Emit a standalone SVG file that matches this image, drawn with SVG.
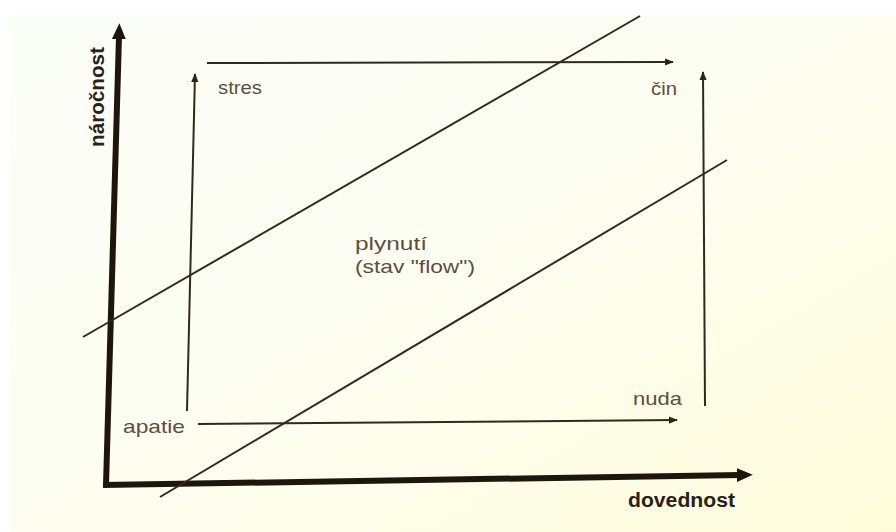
<svg xmlns="http://www.w3.org/2000/svg" width="896" height="532" viewBox="0 0 896 532">
<defs>
<linearGradient id="bg" x1="0" y1="0" x2="1" y2="1">
<stop offset="0" stop-color="#fbfdf8"/>
<stop offset="0.55" stop-color="#fdfef0"/>
<stop offset="1" stop-color="#fdfcda"/>
</linearGradient>
<marker id="ah" viewBox="0 0 10 10" refX="9" refY="5" markerWidth="9" markerHeight="9" markerUnits="userSpaceOnUse" orient="auto">
<path d="M0,1 L10,5 L0,9 Z" fill="#2e2416"/>
</marker>
<marker id="axh" viewBox="0 0 10 10" refX="2" refY="5" markerWidth="16" markerHeight="14" markerUnits="userSpaceOnUse" orient="auto" preserveAspectRatio="none">
<path d="M0,0 L10,5 L0,10 Z" fill="#1e160c"/>
</marker>
</defs>
<style>
.lbl{font-family:"Liberation Sans",Arial,sans-serif;font-size:19px;fill:#5e4e3c}
.ax{font-family:"Liberation Sans",Arial,sans-serif;font-size:20px;font-weight:bold;fill:#2a2116}
.thin{stroke:#33291b;stroke-width:2;fill:none}
.axis{stroke:#1e160c;stroke-width:6;fill:none}
</style>
<rect width="896" height="532" fill="#ffffff"/>
<rect x="10" y="15" width="886" height="517" fill="url(#bg)"/>
<g id="connectors">
<line class="axis" x1="106" y1="485" x2="119" y2="36" marker-end="url(#axh)"/>
<line class="axis" x1="103" y1="485" x2="740" y2="475" marker-end="url(#axh)"/>
<line class="thin" x1="187" y1="411" x2="195" y2="74" marker-end="url(#ah)"/>
<line class="thin" x1="207" y1="63" x2="673" y2="62" marker-end="url(#ah)"/>
<line class="thin" x1="705" y1="406" x2="703" y2="72" marker-end="url(#ah)"/>
<line class="thin" x1="198" y1="424" x2="677" y2="420" marker-end="url(#ah)"/>
<line class="thin" x1="83" y1="337" x2="640" y2="16"/>
<line class="thin" x1="160" y1="497" x2="727" y2="160"/>
</g>
<g id="axis-y"><text class="ax" transform="translate(104,97) rotate(-90)" text-anchor="middle" textLength="100" lengthAdjust="spacingAndGlyphs">náročnost</text></g>
<g id="axis-x"><text class="ax" x="628" y="507" textLength="107" lengthAdjust="spacingAndGlyphs">dovednost</text></g>
<g id="stres"><text class="lbl" x="218" y="94" textLength="44" lengthAdjust="spacingAndGlyphs">stres</text></g>
<g id="cin"><text class="lbl" x="651" y="95" textLength="26" lengthAdjust="spacingAndGlyphs">čin</text></g>
<g id="nuda"><text class="lbl" x="633" y="405" textLength="49" lengthAdjust="spacingAndGlyphs">nuda</text></g>
<g id="apatie"><text class="lbl" x="123" y="433" textLength="62" lengthAdjust="spacingAndGlyphs">apatie</text></g>
<g id="flow">
<text class="lbl" x="355" y="250" textLength="72" lengthAdjust="spacingAndGlyphs">plynutí</text>
<text class="lbl" x="355" y="273" textLength="120" lengthAdjust="spacingAndGlyphs">(stav "flow")</text>
</g>
</svg>
